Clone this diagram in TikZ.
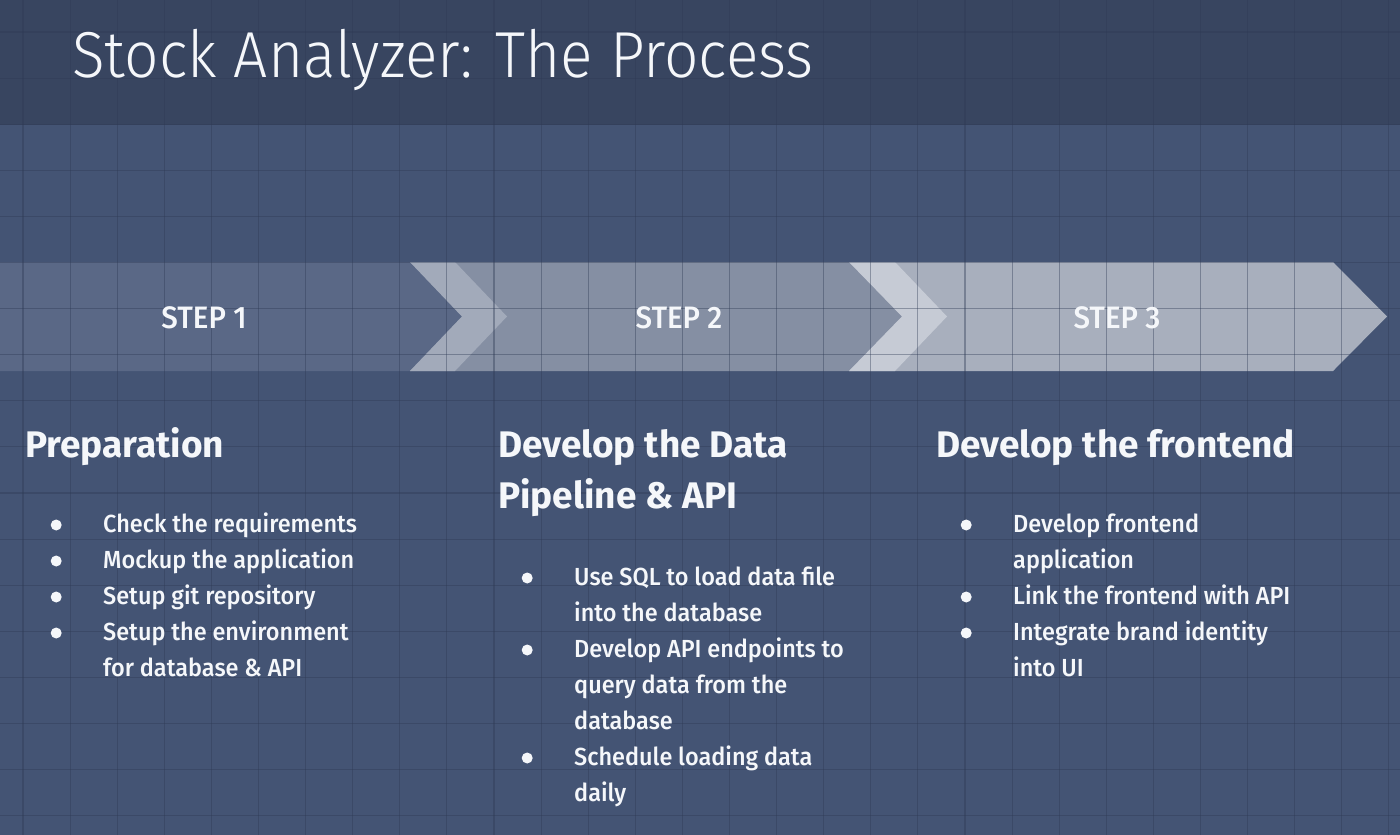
\documentclass[tikz,border=0pt]{standalone}
\usepackage{fontspec}
\setmainfont{Fira Sans}
\newfontfamily\lightfont{Fira Sans Light}[FakeStretch=0.93]
\newfontfamily\mediumfont{Fira Sans Medium}[FakeStretch=0.95]
\usetikzlibrary{positioning}

\definecolor{headbg}{HTML}{384560}
\definecolor{bodybg}{HTML}{445474}
\definecolor{gridcol}{HTML}{2E3A55}
\definecolor{stepone}{HTML}{5A6886}
\definecolor{steptwo}{HTML}{858FA3}
\definecolor{bandtwo}{HTML}{A2AABA}
\definecolor{stepthree}{HTML}{A8AFBD}
\definecolor{bandthree}{HTML}{C6CBD5}
\definecolor{txtwhite}{HTML}{F5F7FA}

% round bullet in front of each item
\newcommand\bdot{\tikz[baseline=0pt,x=1pt,y=1pt]\fill[txtwhite] (5.5,7) circle (5.5);}

\begin{document}
\begin{tikzpicture}[x=1pt,y=-1pt,
        gridline/.style={draw=gridcol, line width=1.1pt, opacity=0.4},
        steplabel/.style={text=txtwhite, anchor=base, font=\mediumfont\fontsize{31}{36}\selectfont},
        heading/.style={text=txtwhite, anchor=base west, align=left, inner sep=0pt, font=\bfseries\fontsize{37}{51}\selectfont},
        itemlist/.style={text=txtwhite, anchor=base west, inner sep=0pt, font=\mediumfont\fontsize{24.7}{36}\selectfont}
    ]
    \useasboundingbox (0,0) rectangle (1400,835);
    \fill[bodybg] (0,0) rectangle (1400,835);
    \fill[headbg] (0,0) rectangle (1400,125);

    % the three steps
    \fill[stepone] (0,262) -- (410,262) -- (462,316.5) -- (410,371) -- (0,371) -- cycle;
    \fill[steptwo] (410,262) -- (849,262) -- (902,316.5) -- (849,371) -- (410,371) -- (462,316.5) -- cycle;
    \fill[bandtwo] (410,262) -- (455,262) -- (507,316.5) -- (455,371) -- (410,371) -- (462,316.5) -- cycle;
    \fill[stepthree] (849,262) -- (1333,262) -- (1387,316.5) -- (1333,371) -- (849,371) -- (902,316.5) -- cycle;
    \fill[bandthree] (849,262) -- (895,262) -- (947,316.5) -- (895,371) -- (849,371) -- (902,316.5) -- cycle;

    % grid
    \foreach \i in {0,...,29} \draw[gridline] ({23+47.1*\i},0) -- ({23+47.1*\i},835);
    \foreach \j in {0,...,17} \draw[gridline] (0,{32+46.1*\j}) -- (1400,{32+46.1*\j});

    \node[text=txtwhite, anchor=base west, inner sep=0pt, font=\lightfont\fontsize{65}{70}\selectfont] (title) at (72,77) {Stock Analyzer: The Process};

    \node[steplabel] (lab1) at (204,328) {STEP 1};
    \node[steplabel] (lab2) at (679,328) {STEP 2};
    \node[steplabel] (lab3) at (1117,328) {STEP 3};

    \node[heading] (prep) at (25,457) {Preparation};
    \node[heading] (pipe) at (498,508) {Develop the Data\\Pipeline \& API};
    \node[heading] (front) at (936,457) {Develop the frontend};

    \node[itemlist] (prepitems) at (50.5,532) {\begin{tabular}[t]{@{}p{52.5pt}@{}l@{}}
        \bdot & Check the requirements\\
        \bdot & Mockup the application\\
        \bdot & Setup git repository\\
        \bdot & Setup the environment\\
              & for database \& API
    \end{tabular}};
    \node[itemlist] (pipeitems) at (521.5,585) {\begin{tabular}[t]{@{}p{52.5pt}@{}l@{}}
        \bdot & Use SQL to load data file\\
              & into the database\\
        \bdot & Develop API endpoints to\\
              & query data from the\\
              & database\\
        \bdot & Schedule loading data\\
              & daily
    \end{tabular}};
    \node[itemlist] (frontitems) at (960.5,532) {\begin{tabular}[t]{@{}p{52.5pt}@{}l@{}}
        \bdot & Develop frontend\\
              & application\\
        \bdot & Link the frontend with API\\
        \bdot & Integrate brand identity\\
              & into UI
    \end{tabular}};
\end{tikzpicture}
\end{document}
